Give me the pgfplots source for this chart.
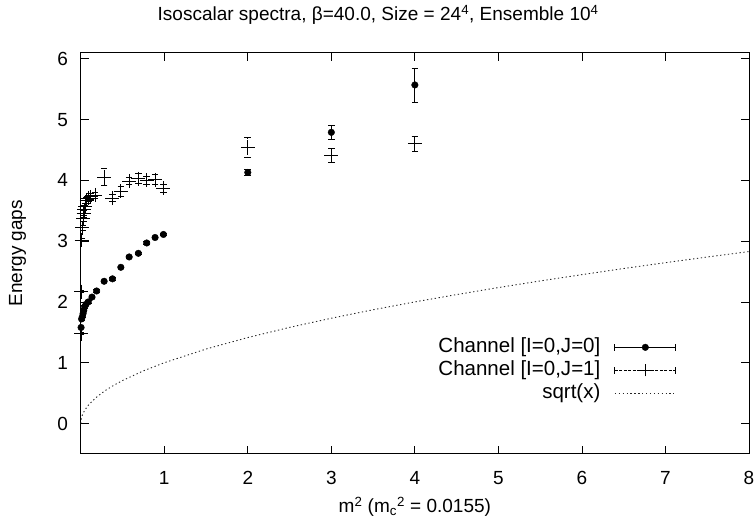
\documentclass[border=0pt]{standalone}
\usepackage{fontspec}
\setmainfont{Liberation Sans}
\usepackage{pgfplots}
\usepackage{pgfplotstable}
\pgfplotsset{compat=1.18}
\usetikzlibrary{calc}

% channel I=0, J=0 : x  y  error
\pgfplotstableread{
x     y     e
0.004 1.58  0.02
0.010 1.72  0.02
0.020 1.76  0.02
0.028 1.81  0.02
0.036 1.86  0.02
0.048 1.92  0.02
0.063 1.96  0.02
0.090 2.00  0.02
0.135 2.08  0.02
0.19  2.18  0.02
0.28  2.34  0.02
0.38  2.38  0.02
0.48  2.57  0.02
0.58  2.74  0.02
0.69  2.80  0.02
0.79  2.97  0.02
0.89  3.06  0.02
0.99  3.11  0.02
2.0   4.13  0.05
3.0   4.79  0.12
4.0   5.57  0.28
}\chanA

% channel I=0, J=1
\pgfplotstableread{
x     y     e
0.004 1.48  0.02
0.004 2.17  0.02
0.010 3.02  0.03
0.020 3.22  0.04
0.030 3.37  0.05
0.036 3.45  0.06
0.045 3.52  0.06
0.055 3.57  0.05
0.070 3.67  0.05
0.090 3.71  0.05
0.12  3.73  0.05
0.17  3.76  0.05
0.28  4.05  0.14
0.38  3.71  0.06
0.48  3.82  0.08
0.58  3.99  0.06
0.69  4.03  0.08
0.79  4.00  0.07
0.89  4.01  0.08
0.99  3.87  0.06
2.0   4.54  0.16
3.0   4.41  0.12
4.0   4.60  0.12
}\chanB

\begin{document}
\begin{tikzpicture}[font=\fontsize{19}{22}\selectfont]
\begin{axis}[
  name=ax,
  scale only axis,
  width=668pt, height=401pt,
  xmin=0, xmax=8, ymin=-0.5, ymax=6.1,
  xtick={1,...,8}, ytick={0,...,6},
  tick align=inside, tick pos=both,
  major tick length=8pt,
  every tick/.style={black, line width=0.8pt},
  axis line style={line width=1pt},
  /pgf/number format/assume math mode=true,
  xticklabel style={anchor=base, yshift=-31pt, inner sep=0pt},
  yticklabel style={anchor=east, xshift=-12.7pt, inner sep=0pt},
  title={Isoscalar spectra, β=40.0, Size = 24\textsuperscript{4}, Ensemble 10\textsuperscript{4}},
  title style={at={(0.445,1)}, anchor=base, yshift=26pt, inner sep=0pt},
  xlabel={m\textsuperscript{2} (m\textsubscript{c}\textsuperscript{2} = 0.0155)},
  xlabel style={at={(0.5,0)}, anchor=base, yshift=-59pt, inner sep=0pt},
  ylabel={Energy gaps},
  ylabel style={at={(0,0.5)}, anchor=base, yshift=58.7pt, inner sep=0pt},
  legend plot pos=right,
  legend cell align=right,
  legend style={draw=none, fill=none, inner sep=0pt, outer sep=0pt,
    at={(0.8912,0.2893)}, anchor=north east,
    column sep=14pt, row sep=4pt,
    font=\fontsize{20.5}{23}\selectfont,
    nodes={inner sep=0pt, text height=14.5pt, text depth=4.5pt}},
]

\addplot[black, only marks, mark=*, mark size=3.3pt,
  legend image code/.code={
    \draw[black, solid, line width=0.8pt] (0pt,0pt) -- (61pt,0pt)
      (0pt,-3.3pt) -- (0pt,3.3pt) (61pt,-3.3pt) -- (61pt,3.3pt);
    \fill[black] (30.5pt,0pt) circle (3.3pt);
  },
  error bars/.cd, y dir=both, y explicit,
  error bar style={line width=0.8pt, solid},
  error mark options={rotate=90, mark size=3.3pt, line width=0.8pt}]
  table[x=x, y=y, y error=e] {\chanA};
\addlegendentry{Channel [I=0,J=0]}

\addplot[black, only marks, mark=+, mark size=7pt,
  mark options={line width=0.8pt},
  legend image code/.code={
    \draw[black, line width=0.8pt, dash pattern=on 3pt off 1.5pt] (0pt,0pt) -- (61pt,0pt);
    \draw[black, solid, line width=0.8pt]
      (0pt,-3.3pt) -- (0pt,3.3pt) (61pt,-3.3pt) -- (61pt,3.3pt)
      (23.5pt,0pt) -- (37.5pt,0pt) (30.5pt,-6pt) -- (30.5pt,6pt);
  },
  error bars/.cd, y dir=both, y explicit,
  error bar style={line width=0.8pt, dash pattern=on 3pt off 1.5pt},
  error mark options={rotate=90, mark size=3.3pt, line width=0.8pt, solid}]
  table[x=x, y=y, y error=e] {\chanB};
\addlegendentry{Channel [I=0,J=1]}

\addplot[black!85, no marks, line width=0.9pt, dash pattern=on 1.3pt off 2.6pt,
  legend image code/.code={
    \draw[black!85, line width=0.9pt, dash pattern=on 1.3pt off 2.6pt] (0pt,0pt) -- (59pt,0pt);
    \path (61pt,0pt);
  }]
  coordinates {
  (0,0) (0.01,0.1) (0.02,0.141) (0.05,0.224) (0.1,0.316) (0.2,0.447)
  (0.3,0.548) (0.4,0.632) (0.5,0.707) (0.75,0.866) (1,1) (1.5,1.225)
  (2,1.414) (2.5,1.581) (3,1.732) (3.5,1.871) (4,2) (4.5,2.121)
  (5,2.236) (5.5,2.345) (6,2.449) (6.5,2.550) (7,2.646) (7.5,2.739) (8,2.828)
  };
\addlegendentry{sqrt(x)}

\end{axis}
\pgfresetboundingbox
\path ($(ax.south west)+(-80.7pt,-74pt)$) rectangle ($(ax.north east)+(7pt,52.7pt)$);
\end{tikzpicture}
\end{document}
